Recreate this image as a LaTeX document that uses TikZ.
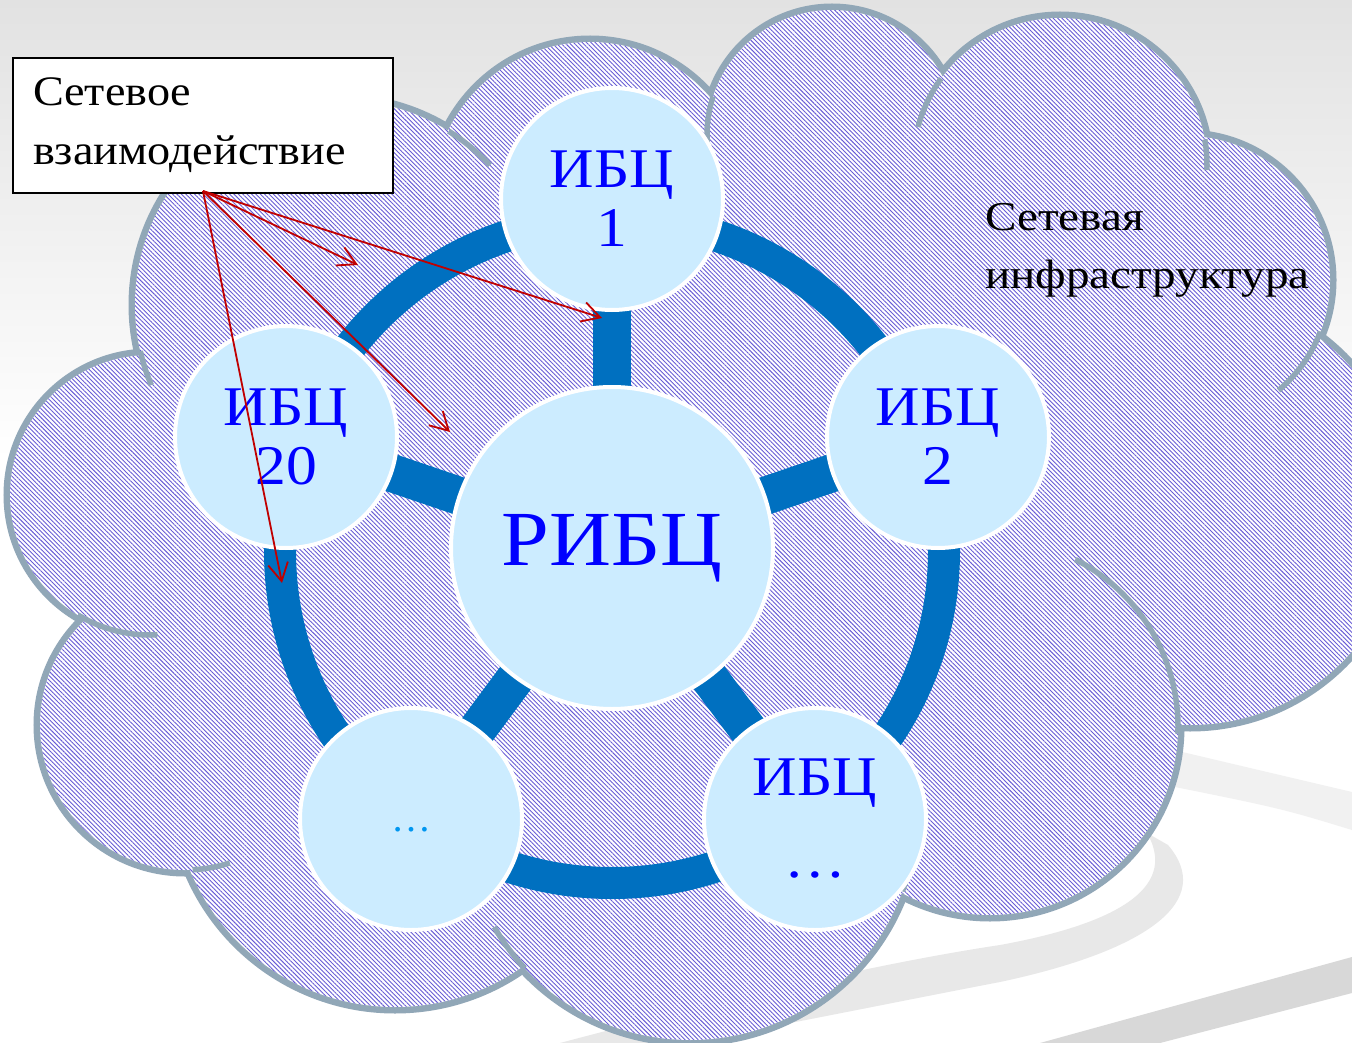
\documentclass[tikz,border=0pt]{standalone}
\usepackage{fontspec}
\setmainfont{Liberation Serif}
\newfontfamily\widea[FakeStretch=1.10]{Liberation Serif}
\newfontfamily\wideb[FakeStretch=1.15]{Liberation Serif}
\usetikzlibrary{patterns.meta,arrows.meta}
\definecolor{cloudline}{RGB}{145,167,183}
\definecolor{hatch}{RGB}{104,92,214}
\definecolor{ringblue}{RGB}{0,112,192}
\definecolor{circfill}{RGB}{204,236,255}
\definecolor{txtblue}{RGB}{0,0,255}
\definecolor{dotblue}{RGB}{0,150,240}
\definecolor{arrowred}{RGB}{192,0,0}
\definecolor{bgtop}{RGB}{226,226,226}
\definecolor{bandA}{RGB}{241,241,241}
\definecolor{bandB}{RGB}{232,232,232}
\definecolor{bandC}{RGB}{216,216,216}
\pgfdeclarelayer{bg}
\pgfdeclarelayer{mid}
\pgfsetlayers{bg,mid,main}
\tikzset{
  lobeline/.style={draw=cloudline, line width=13pt},
  lobetail/.style={draw=cloudline, line width=5.5pt},
  hatchfill/.style={pattern={Lines[angle=-45,distance=3.1pt,line width=0.9pt]}, pattern color=hatch},
  bubble/.style={circle, fill=circfill, draw=white, line width=4pt, inner sep=0pt,
    minimum size=222pt, text=txtblue, align=center, font=\widea\fontsize{56}{59}\selectfont},
  ringline/.style={draw=ringblue, line width=32pt},
  spoke/.style={draw=ringblue, line width=38pt},
  redarrow/.style={draw=arrowred, line width=1.8pt, -{Straight Barb[length=18pt,width=20pt]}},
  labelbox/.style={draw=black, line width=2pt, fill=white, minimum width=380pt, minimum height=135pt,
    inner sep=0pt, anchor=north west, align=left, text width=340pt, font=\widea\fontsize{42}{59}\selectfont},
  infratext/.style={inner sep=0pt, anchor=base west, align=left, font=\wideb\fontsize{41}{58}\selectfont}
}
\def\lobes{340/305/205,590/200/158,832/135/125,1060/165/147,1186/280/144,1190/510/215,990/727/188,690/814/226,395/785/222,185/725/145,150/495/140}
\begin{document}
\begin{tikzpicture}[x=1pt,y=-1pt]
\useasboundingbox (0,0) rectangle (1352,1043);
\begin{pgfonlayer}{bg}
  % background
  \fill[white] (0,0) rectangle (1352,1043);
  \shade[top color=bgtop, bottom color=white] (0,0) rectangle (1352,460);
  \fill[bandA] (1140,742) .. controls (1250,768) .. (1352,792) -- (1352,830) .. controls (1280,808) .. (1140,780) -- cycle;
  \fill[bandB] (560,1043) .. controls (760,990) and (900,960) .. (1000,945)
     .. controls (1110,925) and (1180,890) .. (1147,833)
     -- (1168,845) .. controls (1215,900) and (1150,950) .. (1000,982)
     .. controls (880,1005) and (760,1030) .. (680,1043) -- cycle;
  \fill[bandC] (1040,1043) -- (1352,957) -- (1352,993) -- (1160,1043) -- cycle;
  % cloud: outline, then one union fill in white and one in hatching
  \path[lobeline] foreach \cx/\cy/\r in \lobes { (\cx,\cy) circle[radius=\r] };
  \fill[white] foreach \cx/\cy/\r in \lobes { (\cx,\cy) circle[radius=\r] }
    (340,305) -- (590,200) -- (832,135) -- (1060,165) -- (1186,280) -- (1190,510) -- (990,727) -- (690,814) -- (395,785) -- (185,725) -- (150,495) -- cycle;
  \fill[hatchfill] foreach \cx/\cy/\r in \lobes { (\cx,\cy) circle[radius=\r] }
    (340,305) -- (590,200) -- (832,135) -- (1060,165) -- (1186,280) -- (1190,510) -- (990,727) -- (690,814) -- (395,785) -- (185,725) -- (150,495) -- cycle;
  % interior tails of the cloud
  \draw[lobetail] (340,305) ++(-58:205) arc[start angle=-58, end angle=-43, radius=205];
  \draw[lobetail] (340,305) ++(167:205) arc[start angle=167, end angle=157, radius=205];
  \draw[lobetail] (832,135) ++(198:125) arc[start angle=198, end angle=175, radius=125];
  \draw[lobetail] (1060,165) ++(216:147) arc[start angle=216, end angle=195, radius=147];
  \draw[lobetail] (1060,165) ++(-10:147) arc[start angle=-10, end angle=2, radius=147];
  \draw[lobetail] (1186,280) ++(21:144) arc[start angle=21, end angle=50, radius=144];
  \draw[lobetail] (990,727) ++(2:188) arc[start angle=2, end angle=-63, radius=188];
  \draw[lobetail] (690,814) ++(20:226) arc[start angle=20, end angle=5, radius=226];
  \draw[lobetail] (690,814) ++(137:226) arc[start angle=137, end angle=150, radius=226];
  \draw[lobetail] (185,725) ++(87:145) arc[start angle=87, end angle=72, radius=145];
  \draw[lobetail] (150,495) ++(121:140) arc[start angle=121, end angle=87, radius=140];
\end{pgfonlayer}

% circles
\node[bubble] (i1) at (612,199) {ИБЦ\\1};
\node[bubble] (i2) at (938,437) {ИБЦ\\2};
\node[bubble] (i20) at (286,437) {ИБЦ\\20};
\node[bubble, text=dotblue, font=\fontsize{40}{48}\selectfont] (idots) at (411,819) {\smash{\raisebox{-12pt}{…}}};
\node[bubble] (ik) at (815,819) {ИБЦ\\[23pt]…};
\node[bubble, minimum size=322pt, font=\widea\fontsize{78}{80}\selectfont] (rc) at (612,548) {РИБЦ};

\begin{pgfonlayer}{mid}
  \draw[ringline] (612,551) circle[radius=332];
  \foreach \n in {i1,i2,i20,idots,ik} { \draw[spoke] (rc.center) -- (\n.center); }
\end{pgfonlayer}

% labels
\node[labelbox] (box) at (12,57) {Сетевое\\взаимодействие};
\node[infratext] (infra) at (985,288) {Сетевая\\инфраструктура};

% arrows
\coordinate (src) at (203,191);
\coordinate (a1) at (358,265);
\coordinate (a2) at (602,318);
\coordinate (a3) at (450,432);
\coordinate (a4) at (282,583);
\foreach \t in {a1,a2,a3,a4} { \draw[redarrow] (src) -- (\t); }
\end{tikzpicture}
\end{document}
